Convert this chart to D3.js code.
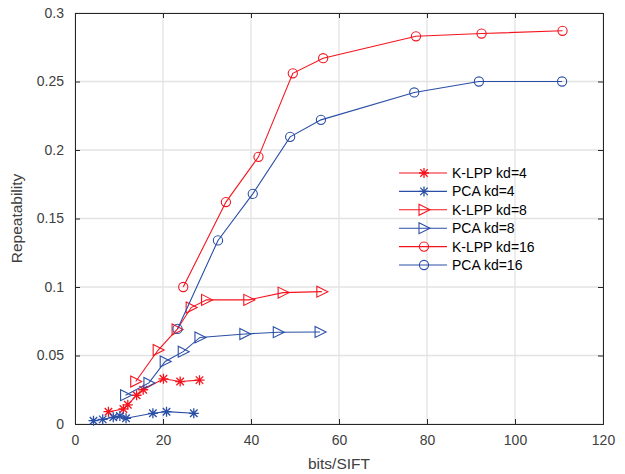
<!DOCTYPE html>
<html><head><meta charset="utf-8">
<script src="https://cdn.jsdelivr.net/npm/d3@7"></script>
<style>body{margin:0;background:#fff}svg{display:block}text{font-family:"Liberation Sans",Arial,sans-serif}</style>
</head><body><svg id="c" width="625" height="474"></svg>
<script>
const xTicks=[0,20,40,60,80,100,120];
const yTicks=[0,0.05,0.1,0.15,0.2,0.25,0.3];
const yTickLabels=["0","0.05","0.1","0.15","0.2","0.25","0.3"];
const seriesNames=["K-LPP kd=4","PCA kd=4","K-LPP kd=8","PCA kd=8","K-LPP kd=16","PCA kd=16"];
const klpp4X=[7.6,11.0,12.0,14.0,15.5,20.1,23.9,28.3];
const klpp4Y=[0.009,0.011,0.014,0.021,0.025,0.033,0.031,0.032];
const pca4X=[4.2,6.3,8.7,10.2,11.6,17.7,20.8,27.0];
const pca4Y=[0.0024,0.0034,0.0049,0.0058,0.0042,0.0078,0.009,0.0078];
const klpp8X=[13.8,18.9,23.2,26.4,29.9,39.5,47.3,56.1];
const klpp8Y=[0.031,0.054,0.069,0.085,0.0906,0.0906,0.0959,0.0966];
const pca8X=[11.5,16.8,20.5,24.6,28.4,38.6,46.2,55.7];
const pca8Y=[0.021,0.030,0.0457,0.0528,0.0632,0.0657,0.067,0.0672];
const klpp16X=[24.6,34.3,41.7,49.5,56.4,77.5,92.4,110.8];
const klpp16Y=[0.100,0.162,0.195,0.256,0.267,0.283,0.285,0.287];
const pca16X=[23.3,32.5,40.4,48.9,55.9,77.1,91.8,110.7];
const pca16Y=[0.0694,0.134,0.168,0.2096,0.222,0.242,0.250,0.250];

const RED="#f5141e", BLUE="#2a4ea6";
const series=[
 {name:seriesNames[0],xs:klpp4X,ys:klpp4Y,color:RED,marker:"star"},
 {name:seriesNames[1],xs:pca4X,ys:pca4Y,color:BLUE,marker:"star"},
 {name:seriesNames[2],xs:klpp8X,ys:klpp8Y,color:RED,marker:"tri"},
 {name:seriesNames[3],xs:pca8X,ys:pca8Y,color:BLUE,marker:"tri"},
 {name:seriesNames[4],xs:klpp16X,ys:klpp16Y,color:RED,marker:"circle"},
 {name:seriesNames[5],xs:pca16X,ys:pca16Y,color:BLUE,marker:"circle"}
];
const L=75,R=603,T=13,B=424;
const x=d3.scaleLinear().domain([0,120]).range([L,R]);
const y=d3.scaleLinear().domain([0,0.3]).range([B,T]);
const svg=d3.select("#c");
const g=svg.append("g");
// grid
g.selectAll(".gx").data(xTicks).enter().append("line").attr("x1",d=>x(d)).attr("x2",d=>x(d)).attr("y1",T).attr("y2",B).attr("stroke","#e3e3e3").attr("stroke-width",1.3);
g.selectAll(".gy").data(yTicks).enter().append("line").attr("y1",d=>y(d)).attr("y2",d=>y(d)).attr("x1",L).attr("x2",R).attr("stroke","#e3e3e3").attr("stroke-width",1.3);
// axes
const ax=g.append("g").attr("transform",`translate(0,${B})`).call(d3.axisBottom(x).tickValues(xTicks).tickSize(-5).tickPadding(11).tickFormat(d3.format("d")));
const ay=g.append("g").attr("transform",`translate(${L},0)`).call(d3.axisLeft(y).tickValues(yTicks).tickSize(-5).tickPadding(11).tickFormat((d,i)=>yTickLabels[i]));
const axt=g.append("g").attr("transform",`translate(0,${T})`).call(d3.axisTop(x).tickValues(xTicks).tickSize(-5).tickFormat(""));
const ayr=g.append("g").attr("transform",`translate(${R},0)`).call(d3.axisRight(y).tickValues(yTicks).tickSize(-5).tickFormat(""));
[ax,ay,axt,ayr].forEach(a=>{a.select(".domain").attr("stroke","#262626").attr("stroke-width",1);a.selectAll(".tick line").attr("stroke","#262626");a.selectAll("text").attr("fill","#404040").attr("font-size","14px");});
ax.selectAll("text").attr("dy","0.71em");
// markers
function drawMarker(sel,type,color){
  if(type==="star"){
    const s=5;
    sel.append("path").attr("d",`M${-s},0H${s}M0,${-s}V${s}M${-s*0.75},${-s*0.75}L${s*0.75},${s*0.75}M${-s*0.75},${s*0.75}L${s*0.75},${-s*0.75}`).attr("stroke",color).attr("stroke-width",1.3).attr("fill","none");
  } else if(type==="tri"){
    sel.append("path").attr("d","M-5,-5.5L6,0L-5,5.5Z").attr("stroke",color).attr("stroke-width",1.1).attr("fill","none");
  } else {
    sel.append("circle").attr("r",4.6).attr("stroke",color).attr("stroke-width",1.1).attr("fill","none");
  }
}
const line=d3.line().x(d=>x(d[0])).y(d=>y(d[1]));
series.forEach(s=>{
  const pts=s.xs.map((v,i)=>[v,s.ys[i]]);
  g.append("path").datum(pts).attr("d",line).attr("fill","none").attr("stroke",s.color).attr("stroke-width",1.1);
  pts.forEach(p=>{const m=g.append("g").attr("transform",`translate(${x(p[0])},${y(p[1])})`);drawMarker(m,s.marker,s.color);});
});
// legend
const lg=g.append("g");
series.forEach((s,i)=>{
  const yy=173+i*18.4;
  lg.append("line").attr("x1",399).attr("x2",447).attr("y1",yy).attr("y2",yy).attr("stroke",s.color).attr("stroke-width",1.1);
  drawMarker(lg.append("g").attr("transform",`translate(424,${yy})`),s.marker,s.color);
  lg.append("text").attr("x",452).attr("y",yy).attr("dy","0.35em").attr("font-size","14px").attr("fill","#000").text(s.name);
});
// labels
svg.append("text").attr("x",(L+R)/2).attr("y",469).attr("text-anchor","middle").attr("font-size","15.5px").attr("fill","#404040").text("bits/SIFT");
svg.append("text").attr("transform",`translate(22,${(T+B)/2}) rotate(-90)`).attr("text-anchor","middle").attr("font-size","15.5px").attr("fill","#404040").text("Repeatability");
</script></body></html>
